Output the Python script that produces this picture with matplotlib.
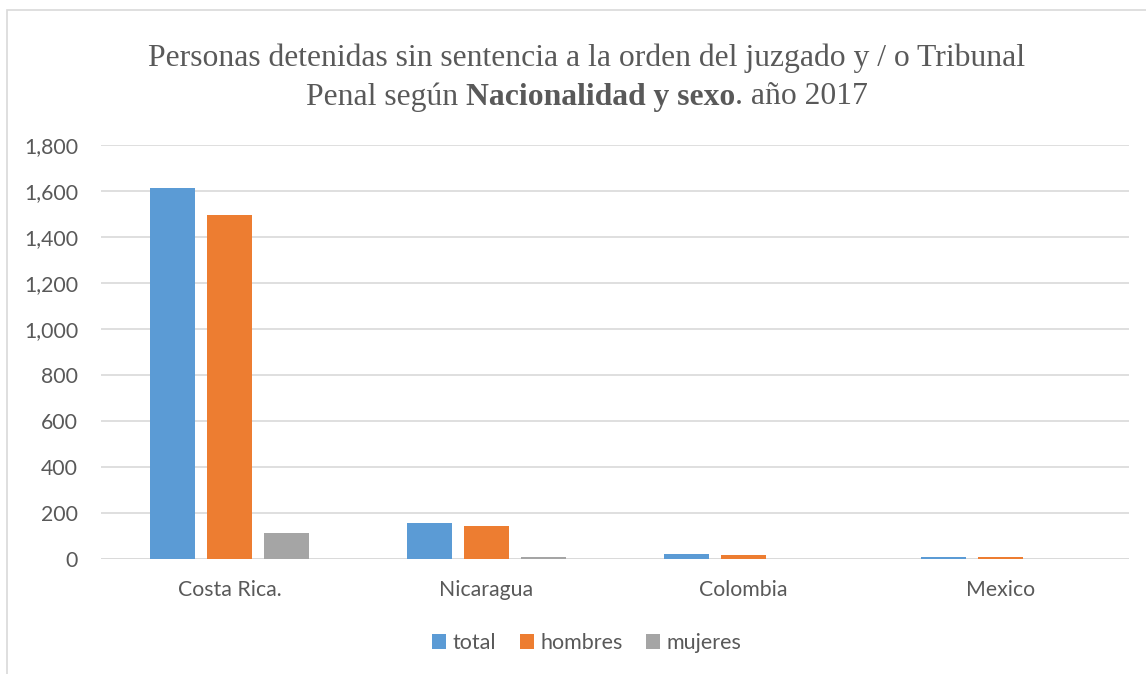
import numpy
from matplotlib import pyplot
from matplotlib.patches import Rectangle

paises   = ["Costa Rica.", "Nicaragua", "Colombia", "Mexico"]
total    = [1613, 158, 22, 10]
hombres  = [1498, 145, 19, 10]
mujeres  = [114, 10, 1, 2]
series   = ["total", "hombres", "mujeres"]
colores  = ["#5B9BD5", "#ED7D31", "#A5A5A5"]
yticks   = [0, 200, 400, 600, 800, 1000, 1200, 1400, 1600, 1800]

texto_gris = "#595959"
fig = pyplot.figure(figsize=(11.46, 6.74), dpi=100)
ax = fig.add_axes([0.0881, 0.1706, 0.8971, 0.6138])

x = numpy.arange(len(paises))
ancho = 0.175
paso = 0.222
for i, (valores, color, nombre) in enumerate(zip([total, hombres, mujeres], colores, series)):
    ax.bar(x + (i - 1)*paso, valores, width=ancho, color=color, label=nombre, zorder=3)

ax.set_xlim(-0.5, len(paises) - 0.5)
ax.set_ylim(0, 1800)
ax.set_yticks(yticks)
ax.set_yticklabels(["{:,}".format(v) for v in yticks])
ax.set_xticks(x)
ax.set_xticklabels(paises)
ax.yaxis.grid(True, color="#D9D9D9", linewidth=1.2, zorder=0)
for s in ["top", "right", "left", "bottom"]:
    ax.spines[s].set_visible(False)
ax.axhline(0, color="#D9D9D9", linewidth=1.2, zorder=1)
ax.tick_params(axis="both", length=0, labelsize=15.3, labelcolor=texto_gris)
ax.tick_params(axis="y", pad=16.5)
ax.tick_params(axis="x", pad=15)
for lab in ax.get_xticklabels() + ax.get_yticklabels():
    lab.set_family("Lato")

leg = fig.legend(loc="center", bbox_to_anchor=(0.512, 0.046), ncol=3, frameon=False,
                 prop={"family": "Lato", "size": 15.5}, handlelength=0.65, handleheight=0.65,
                 handletextpad=0.3, columnspacing=1.1)
for t in leg.get_texts():
    t.set_color(texto_gris)

# marco del grafico
fig.patches.append(Rectangle((7/1146, -0.1), 1.2, 1.1 - 10/674, transform=fig.transFigure,
                             fill=False, edgecolor="#D9D9D9", linewidth=1.2))

# titulo
titulo_size = 22.8
fig.text(0.512, 1 - 58/674, "Personas detenidas sin sentencia a la orden del juzgado y / o Tribunal",
         ha="center", va="center", family="Liberation Serif", size=titulo_size, color=texto_gris)
partes = [("Penal según ", "normal"), ("Nacionalidad y sexo", "bold"), (". año 2017", "normal")]
renderer = fig.canvas.get_renderer()
textos = []
for txt, peso in partes:
    t = fig.text(0, 1 - 97/674, txt, ha="left", va="center", family="Liberation Serif",
                 size=titulo_size, weight=peso, color=texto_gris)
    textos.append(t)
anchos = [t.get_window_extent(renderer).width for t in textos]
inicio = 0.512*1146 - sum(anchos)/2
for t, w in zip(textos, anchos):
    t.set_x(inicio/1146)
    inicio += w

fig.savefig("out.png", dpi=100)
